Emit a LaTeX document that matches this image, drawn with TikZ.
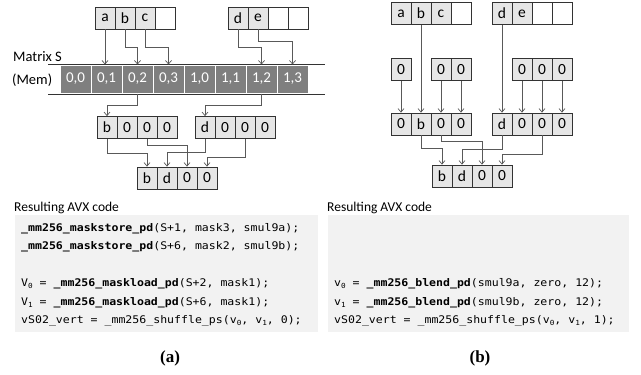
\documentclass[tikz,border=0pt]{standalone}
\usepackage{fontspec}
\setmainfont{Carlito}
\newfontfamily\codefont{DejaVu Sans Mono}[FakeStretch=1.1]
\newfontfamily\capfont{Liberation Serif}
\usetikzlibrary{arrows.meta,calc}

\definecolor{cellgray}{HTML}{E6E6E6}
\definecolor{memgray}{HTML}{7F7F7F}
\definecolor{codegray}{HTML}{F2F2F2}

\tikzset{
	cell/.style={draw=black!80,fill=cellgray,line width=0.8pt,
		minimum width=20pt,minimum height=22pt,inner sep=0pt,
		font=\fontsize{15.5}{15.5}\selectfont},
	blank/.style={cell,fill=white},
	memcell/.style={draw=white,fill=memgray,line width=1pt,
		minimum width=31pt,minimum height=28pt,inner sep=0pt,
		text=white,font=\fontsize{15}{15}\selectfont},
	link/.style={draw=black!65,line width=0.7pt,
		-{Straight Barb[length=3.5pt,width=6pt]}},
	codeline/.style={anchor=base west,inner sep=0pt,
		font=\codefont\fontsize{10.5}{12}\selectfont},
	title/.style={anchor=west,inner sep=0pt,font=\fontsize{14.5}{14.5}\selectfont},
	codetitle/.style={title,font=\fontsize{13.5}{13.5}\selectfont}
}

% a row of cells: name, x of first centre, y, labels
\newcommand{\cellrow}[4]{%
	\foreach \lab [count=\i] in {#4}
	\node[cell] (#1-\i) at ({#2+(\i-1)*20},#3) {\lab};}
\newcommand{\sub}[1]{\raisebox{-0.35ex}{\fontsize{7}{7}\selectfont#1}}

\begin{document}
\begin{tikzpicture}[x=1pt,y=-1pt]
	\useasboundingbox (0,0) rectangle (641,375);
	
	% (a)
	\cellrow{la}{105}{18}{a,b,c}
	\node[blank] (la-4) at (165,18) {};
	\cellrow{ld}{238}{18}{d,e}
	\node[blank] (ld-3) at (278,18) {};
	\node[blank] (ld-4) at (298,18) {};
	
	\foreach \lab [count=\i] in {{0,0},{0,1},{0,2},{0,3},{1,0},{1,1},{1,2},{1,3}}
	\node[memcell] (mem-\i) at ({44.5+\i*31},79) {\lab};
	\draw[black!80,line width=0.8pt] (48,64) -- (325,64) (48,94) -- (325,94);
	\node[title] (matlbl) at (13,57) {Matrix S};
	\node[title] (memlbl) at (12,80) {(Mem)};
	
	\cellrow{lb}{107}{127.5}{b,0,0,0}
	\cellrow{lc}{205}{127.5}{d,0,0,0}
	\cellrow{lr}{147}{178}{b,d,0,0}
	
	\draw[link] (la-1.south) -- (la-1.south |- mem-2.north);
	\draw[link] (la-2.south) -- ++(0,18) -| (mem-3.north);
	\draw[link] (la-3.south) -- ++(0,18) -| (mem-4.north);
	\draw[link] (ld-1.south) -- ++(0,18) -| (mem-7.north);
	\draw[link] (ld-2.south) -- ++(0,12) -| (mem-8.north);
	\draw[link] (mem-3.south) -- ++(0,12) -| (lb-1.north);
	\draw[link] (mem-7.south) -- ++(0,12) -| (lc-1.north);
	\draw[link] (lb-1.south) -- ++(0,14) -| (lr-1.north);
	\draw[link] (lb-3.south) -- ++(0,6) -| (lr-3.north);
	\draw[link] (lc-1.south) -- ++(0,13) -| (lr-2.north);
	\draw[link] (lc-3.south) -- ++(0,18) -| (lr-4.north);
	
	% (b)
	\cellrow{ra}{401}{13.5}{a,b,c}
	\node[blank] (ra-4) at (461,13.5) {};
	\cellrow{rd}{502}{13.5}{d,e}
	\node[blank] (rd-3) at (542,13.5) {};
	\node[blank] (rd-4) at (562,13.5) {};
	
	\node[cell] (rz-1) at (401,69.5) {0};
	\cellrow{rzz}{441}{69.5}{0,0}
	\cellrow{rzzz}{522}{69.5}{0,0,0}
	\cellrow{rb}{401}{124}{0,b,0,0}
	\cellrow{rc}{502}{124}{d,0,0,0}
	\cellrow{rr}{442}{176}{b,d,0,0}
	
	\draw[link] (rz-1.south) -- (rb-1.north);
	\draw[link] (ra-2.south) -- (rb-2.north);
	\foreach \i/\j in {1/3,2/4}
	\draw[link] (rzz-\i.south) -- (rb-\j.north);
	\draw[link] (rd-1.south) -- (rc-1.north);
	\foreach \i/\j in {1/2,2/3,3/4}
	\draw[link] (rzzz-\i.south) -- (rc-\j.north);
	\draw[link] (rb-2.south) -- ++(0,13) -| (rr-1.north);
	\draw[link] (rb-3.south) -- ++(0,6) -| (rr-3.north);
	\draw[link] (rc-1.south) -- ++(0,14) -| (rr-2.north);
	\draw[link] (rc-3.south) -- ++(0,19) -| (rr-4.north);
	
	% code
	\node[codetitle] (ltitle) at (14,208) {Resulting AVX code};
	\node[codetitle] (rtitle) at (327,208) {Resulting AVX code};
	\fill[codegray] (15,215) rectangle (318,332);
	\fill[codegray] (328,215) rectangle (629,332);
	
	\node[codeline] (lcode-1) at (21,231) {\textbf{\_mm256\_maskstore\_pd}(S+1, mask3, smul9a);};
	\node[codeline] (lcode-2) at (21,249.5) {\textbf{\_mm256\_maskstore\_pd}(S+6, mask2, smul9b);};
	\node[codeline] (lcode-3) at (21,286.5) {V\sub{0} = \textbf{\_mm256\_maskload\_pd}(S+2, mask1);};
	\node[codeline] (lcode-4) at (21,305) {V\sub{1} = \textbf{\_mm256\_maskload\_pd}(S+6, mask1);};
	\node[codeline] (lcode-5) at (21,323) {vS02\_vert = \_mm256\_shuffle\_ps(v\sub{0}, v\sub{1}, 0);};
	
	\node[codeline] (rcode-1) at (334,286.5) {v\sub{0} = \textbf{\_mm256\_blend\_pd}(smul9a, zero, 12);};
	\node[codeline] (rcode-2) at (334,305) {v\sub{1} = \textbf{\_mm256\_blend\_pd}(smul9b, zero, 12);};
	\node[codeline] (rcode-3) at (334,323) {vS02\_vert = \_mm256\_shuffle\_ps(v\sub{0}, v\sub{1}, 1);};
	
	\node[font=\capfont\bfseries\fontsize{17}{17}\selectfont] (capa) at (170,358) {(a)};
	\node[font=\capfont\bfseries\fontsize{17}{17}\selectfont] (capb) at (480,358) {(b)};
\end{tikzpicture}
\end{document}
